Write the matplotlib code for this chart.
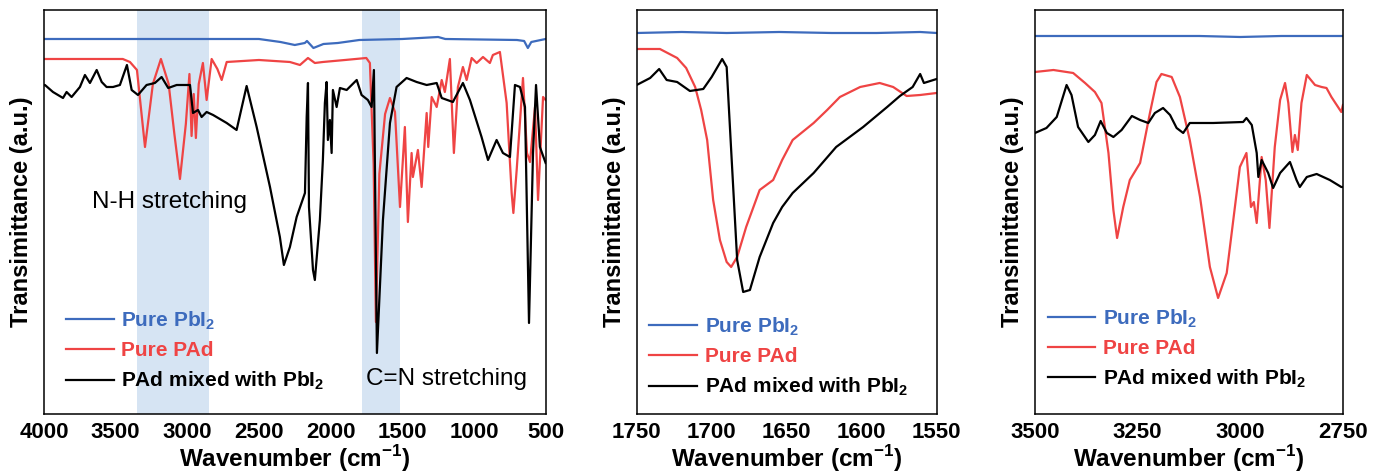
import numpy as np
import matplotlib
matplotlib.use('Agg')
import matplotlib.pyplot as plt

plt.rcParams['font.family'] = ['Liberation Sans', 'DejaVu Sans']
plt.rcParams['mathtext.fontset'] = 'custom'
plt.rcParams['mathtext.rm'] = 'Liberation Sans'
plt.rcParams['mathtext.bf'] = 'Liberation Sans:bold'

# Farver
blue = '#3d6bbd'
red = '#ef4444'
black = '#000000'
shade = '#d6e4f3'

labels = ['Pure PbI$_\\mathbf{2}$', 'Pure PAd', 'PAd mixed with PbI$_\\mathbf{2}$']

####################
# Panel 1: fuldt spektrum (4000-500)
wn1_pbi2 = [4000, 3000, 2500, 2350, 2250, 2180, 2165, 2120, 2050, 1950, 1800, 1500,
            1250, 1200, 700, 650, 624, 600, 500]
t1_pbi2 = [375, 375, 375, 372, 369, 371, 373, 366, 370, 371, 374, 375,
           377, 375, 374, 373, 366, 372, 375]

wn1_pad = [4000, 3600, 3450, 3400, 3351, 3295, 3240, 3184, 3130, 3090, 3051, 3010,
           2985, 2970, 2955, 2940, 2920, 2891, 2865, 2830, 2790, 2760, 2725, 2500,
           2284, 2214, 2158, 2110, 2054, 1900, 1751, 1726, 1700, 1684, 1660, 1620,
           1586, 1551, 1516, 1482, 1461, 1435, 1426, 1391, 1365, 1330, 1319, 1295,
           1260, 1225, 1203, 1168, 1140, 1112, 1077, 1051, 1016, 981, 937, 889,
           868, 819, 772, 737, 725, 702, 658, 630, 609, 574, 553, 518, 500]
t1_pad = [355, 355, 355, 352, 344, 267, 330, 355, 330, 280, 235, 290,
          340, 278, 320, 276, 330, 351, 314, 355, 345, 334, 352, 354,
          352, 349, 356, 351, 352, 354, 356, 351, 250, 92, 240, 300,
          316, 302, 207, 287, 192, 261, 237, 264, 227, 301, 267, 317,
          307, 334, 322, 355, 261, 327, 347, 334, 356, 351, 357, 351,
          359, 362, 311, 221, 201, 244, 336, 261, 252, 307, 214, 317, 314]

wn1_mix = [4000, 3993, 3937, 3867, 3842, 3807, 3749, 3714, 3679, 3632, 3597, 3563,
           3518, 3470, 3421, 3388, 3344, 3284, 3226, 3179, 3133, 3074, 2981, 2960,
           2925, 2900, 2865, 2820, 2725, 2656, 2586, 2516, 2423, 2354, 2326, 2284,
           2237, 2179, 2167, 2158, 2151, 2123, 2110, 2075, 2054, 2040, 2028, 2019,
           2005, 1993, 1984, 1958, 1935, 1888, 1818, 1784, 1740, 1714, 1698, 1677,
           1635, 1586, 1540, 1470, 1400, 1330, 1260, 1225, 1147, 1077, 1028, 947,
           902, 842, 798, 749, 714, 679, 644, 616, 588, 567, 540, 500]
t1_mix = [329, 329, 322, 316, 322, 317, 327, 339, 331, 344, 332, 327,
          327, 329, 349, 324, 319, 329, 331, 337, 326, 329, 329, 301,
          304, 297, 302, 299, 291, 284, 328, 287, 227, 177, 149, 167,
          197, 221, 297, 331, 207, 144, 134, 194, 254, 311, 332, 274,
          294, 261, 324, 307, 326, 324, 334, 319, 314, 307, 344, 61,
          194, 291, 327, 336, 332, 329, 331, 316, 312, 331, 314, 277,
          254, 274, 261, 257, 329, 327, 307, 91, 261, 329, 267, 251]

####################
# Panel 2: C=N område (1750-1550)
wn2_pbi2 = [1750, 1720, 1690, 1655, 1620, 1590, 1561, 1550]
t2_pbi2 = [381, 382, 381, 382, 381, 381, 382, 381]

wn2_pad = [1750, 1734.5, 1723, 1717, 1711, 1707, 1703, 1699, 1694.5, 1690, 1687, 1683,
           1677, 1668, 1659, 1653, 1646, 1632, 1623, 1614.5, 1601, 1588, 1579, 1570,
           1561, 1550]
t2_pad = [365, 365, 356, 346, 327, 304, 274, 214, 174, 152, 147, 157,
          187, 224, 234, 254, 274, 291, 304, 317, 327, 331, 327, 318,
          319, 321]

wn2_mix = [1750, 1741, 1735, 1730, 1723, 1714.5, 1705.6, 1700, 1693, 1690, 1687, 1683,
           1679, 1674.5, 1668, 1659, 1653, 1646, 1632, 1617, 1599, 1583, 1574.5, 1566,
           1561, 1558.5, 1550]
t2_mix = [329, 336, 345, 334, 332, 323, 325, 337, 355, 347, 264, 154,
          122, 124, 157, 191, 207, 221, 241, 267, 287, 307, 318, 327,
          340, 331, 335]

####################
# Panel 3: N-H område (3500-2750)
wn3_pbi2 = [3500, 3400, 3300, 3200, 3100, 3000, 2900, 2800, 2750]
t3_pbi2 = [378, 378, 378, 378, 378, 377, 378, 378, 378]

wn3_pad = [3500, 3455, 3407, 3378, 3354, 3338, 3321, 3309, 3300, 3285, 3269, 3244,
           3220, 3204, 3192, 3167, 3147, 3123, 3098, 3074, 3054, 3033, 3017, 3001,
           2985, 2974, 2967, 2960, 2948, 2938, 2929, 2916, 2903, 2891, 2883, 2873,
           2867, 2860, 2851, 2838, 2818, 2802, 2790, 2778, 2762, 2754, 2750]
t3_pad = [342, 344, 341, 331, 322, 311, 261, 204, 176, 207, 234, 251,
          301, 332, 340, 337, 317, 274, 217, 147, 116, 141, 194, 247,
          261, 207, 212, 191, 257, 234, 186, 267, 314, 331, 311, 262,
          279, 264, 311, 339, 329, 327, 326, 317, 307, 302, 309]

wn3_mix = [3500, 3472, 3447, 3423, 3411, 3395, 3370, 3354, 3340, 3325, 3309, 3289,
           3264, 3244, 3224, 3208, 3188, 3171, 3155, 3139, 3123, 3066, 2993, 2985,
           2972, 2960, 2956, 2948, 2932, 2920, 2903, 2879, 2863, 2855, 2838, 2814,
           2782, 2754, 2750]
t3_mix = [281, 286, 297, 329, 319, 287, 272, 279, 293, 281, 277, 284,
          298, 294, 291, 301, 306, 299, 286, 281, 291, 291, 292, 296,
          289, 261, 237, 254, 241, 226, 241, 252, 234, 227, 237, 240,
          234, 227, 227]

####################
# Plotter
fig = plt.figure(figsize=(13.73, 4.76), dpi=100)
ax1 = fig.add_axes([0.0320, 0.1303, 0.3654, 0.8487])
ax2 = fig.add_axes([0.4637, 0.1303, 0.2185, 0.8487])
ax3 = fig.add_axes([0.7538, 0.1303, 0.2243, 0.8487])

panels = [
    (ax1, (4000, 500), np.arange(4000, 499, -500),
     [(wn1_pbi2, t1_pbi2), (wn1_pad, t1_pad), (wn1_mix, t1_mix)], (0.006, 0.007)),
    (ax2, (1750, 1550), np.arange(1750, 1549, -50),
     [(wn2_pbi2, t2_pbi2), (wn2_pad, t2_pad), (wn2_mix, t2_mix)], (-0.02, -0.008)),
    (ax3, (3500, 2750), np.arange(3500, 2749, -250),
     [(wn3_pbi2, t3_pbi2), (wn3_pad, t3_pad), (wn3_mix, t3_mix)], (-0.02, 0.012)),
]

for ax, xlim, ticks, series, anchor in panels:
    for (wn, t), c, lab in zip(series, [blue, red, black], labels):
        ax.plot(wn, t, color=c, lw=1.6, label=lab)
    ax.set_xlim(*xlim)
    ax.set_ylim(0, 404)
    ax.set_xticks(ticks)
    ax.set_xticklabels([str(v) for v in ticks], fontweight='bold')
    ax.set_yticks([])
    ax.tick_params(axis='x', length=0, pad=6, labelsize=16)
    for sp in ax.spines.values():
        sp.set_linewidth(1.1)
    ax.set_xlabel('Wavenumber (cm$^{\\mathbf{-1}}$)', fontsize=17.5, fontweight='bold', labelpad=0)
    ax.set_ylabel('Transimittance (a.u.)', fontsize=17, fontweight='bold', labelpad=8)
    leg = ax.legend(loc='lower left', bbox_to_anchor=anchor, frameon=False,
                    prop={'weight': 'bold', 'size': 15}, labelcolor='linecolor',
                    handlelength=2.3, handletextpad=0.35, labelspacing=0.45)

# Markerede områder
ax1.axvspan(3350, 2850, color=shade, zorder=0, lw=0)
ax1.axvspan(1780, 1515, color=shade, zorder=0, lw=0)
ax1.text(3121, 212, 'N-H stretching', fontsize=17.5, ha='center', va='center')
ax1.text(1190, 35, 'C=N stretching', fontsize=17.5, ha='center', va='center')

plt.savefig('out.png', dpi=100)
